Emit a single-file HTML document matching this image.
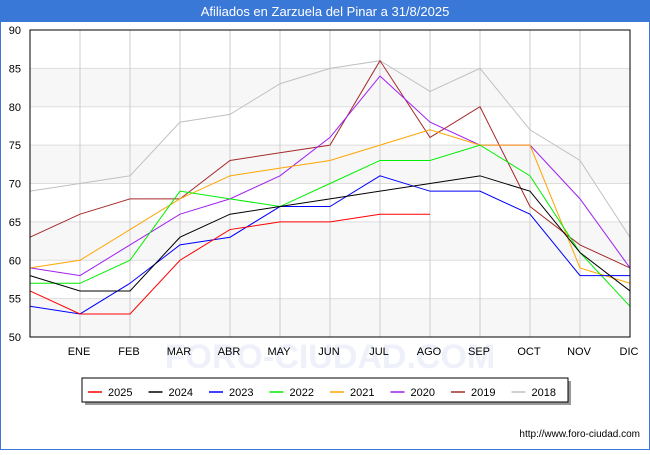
<!DOCTYPE html>
<html><head><meta charset="utf-8"><style>
body{margin:0;width:650px;height:450px;background:#fff;font-family:"Liberation Sans",sans-serif;overflow:hidden}
</style></head><body>
<svg width="650" height="450" xmlns="http://www.w3.org/2000/svg">
<rect x="0" y="0" width="650" height="450" fill="#fff" stroke="#3a78d8" stroke-width="2"/>
<rect x="0" y="0" width="650" height="22" fill="#3a78d8"/>
<text x="325" y="16" text-anchor="middle" fill="#fff" font-size="13">Afiliados en Zarzuela del Pinar a 31/8/2025</text>
<g id="grid"></g>
<text x="330" y="368" text-anchor="middle" font-size="34" fill="#eef0fa" font-weight="bold">FORO-CIUDAD.COM</text>
<g id="series"></g>
<rect x="30" y="30" width="600" height="307" fill="none" stroke="#000"/>
<g id="axes"></g>
<rect x="85" y="381" width="486" height="24" fill="#999"/>
<rect x="82" y="378" width="486" height="24" fill="#fff" stroke="#000"/>
<g id="legend"></g>
<text x="640" y="437" text-anchor="end" font-size="10" fill="#000">http://www.foro-ciudad.com</text>
</svg>
<script>
const months=["","ENE","FEB","MAR","ABR","MAY","JUN","JUL","AGO","SEP","OCT","NOV","DIC"];
const yTicks=[50,55,60,65,70,75,80,85,90];
const seriesNames=["2025","2024","2023","2022","2021","2020","2019","2018"];
const seriesColors=["#ff0000","#000000","#0000ff","#00ee00","#ffa500","#a020f0","#a52a2a","#c0c0c0"];
const s2025=[56,53,53,60,64,65,65,66,66];
const s2024=[58,56,56,63,66,67,68,69,70,71,69,61,56];
const s2023=[54,53,57,62,63,67,67,71,69,69,66,58,58];
const s2022=[57,57,60,69,68,67,70,73,73,75,71,61,54];
const s2021=[59,60,64,68,71,72,73,75,77,75,75,59,57];
const s2020=[59,58,62,66,68,71,76,84,78,75,75,68,59];
const s2019=[63,66,68,68,73,74,75,86,76,80,67,62,59];
const s2018=[69,70,71,78,79,83,85,86,82,85,77,73,63];
const allSeries=[s2025,s2024,s2023,s2022,s2021,s2020,s2019,s2018];
const NS="http://www.w3.org/2000/svg";
const X=i=>30+i*50, Y=v=>337-(v-50)*307/40;
function mk(t,a,p){const e=document.createElementNS(NS,t);for(const k in a)e.setAttribute(k,a[k]);p.appendChild(e);return e;}
const grid=document.getElementById('grid'),axes=document.getElementById('axes'),ser=document.getElementById('series'),leg=document.getElementById('legend');
for(let i=0;i<yTicks.length-1;i++){
  if(i%2===0){const b=mk('rect',{x:30,y:Y(yTicks[i+1]),width:600,height:Y(yTicks[i])-Y(yTicks[i+1]),fill:'#f7f7f7'},grid);
  
  }
}
yTicks.forEach(v=>{
  const l=mk('line',{x1:30,x2:630,y1:Y(v),y2:Y(v),stroke:'#ddd'},grid);
  
  
  const t=mk('text',{x:21,y:Y(v)+4,'text-anchor':'end','font-size':11,fill:'#000'},axes);t.textContent=v;
  
  
});
months.forEach((m,i)=>{
  if(i===0)return;
  const l=mk('line',{x1:X(i),x2:X(i),y1:30,y2:337,stroke:'#ccc'},grid);
  
  
  const t=mk('text',{x:X(i)-1,y:355,'text-anchor':'middle','font-size':11,fill:'#000'},axes);t.textContent=m;
  
  
});
for(let s=allSeries.length-1;s>=0;s--){
  const p=mk('polyline',{points:allSeries[s].map((v,i)=>X(i)+','+Y(v)).join(' '),fill:'none',stroke:seriesColors[s],'stroke-width':1},ser);
  
  
}
seriesNames.forEach((n,i)=>{
  const x=88+i*60.5;
  const l=mk('line',{x1:x,x2:x+14,y1:392,y2:392,stroke:seriesColors[i],'stroke-width':1.5},leg);
  
  
  const t=mk('text',{x:x+20,y:396,'font-size':11,fill:'#000'},leg);t.textContent=n;
  
  
});
</script>
</body></html>
